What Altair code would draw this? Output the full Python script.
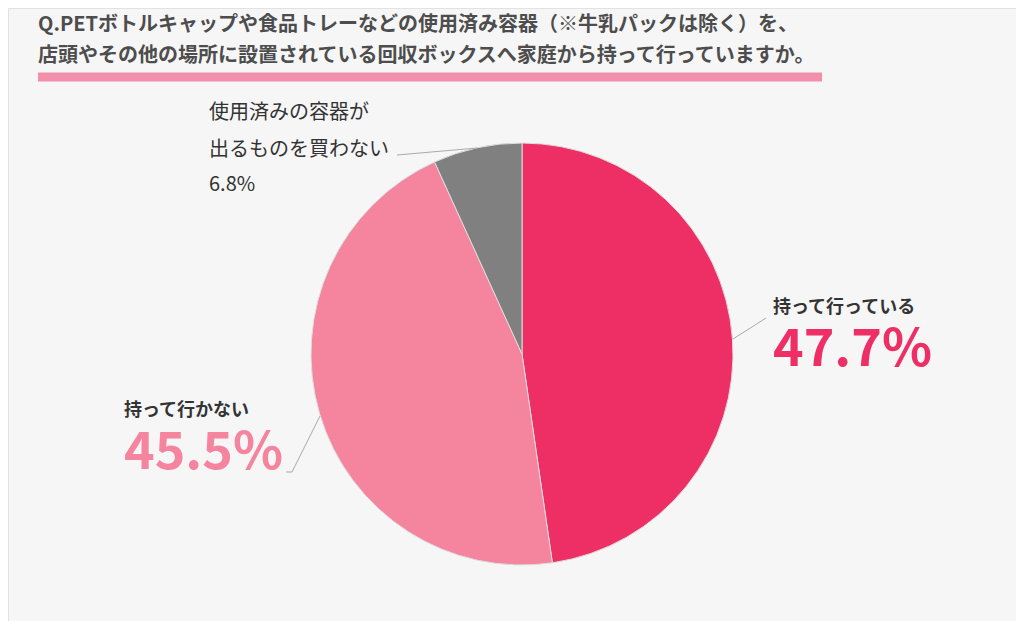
"""
Pie chart: bringing used containers to collection boxes (survey result)
"""

import altair as alt
import pandas as pd

# data
answers = ["持って行っている", "持って行かない", "使用済みの容器が出るものを買わない"]
shares = [47.7, 45.5, 6.8]
slice_colors = ["#ee2f66", "#f5849f", "#808080"]

title_lines = [
    "Q.PETボトルキャップや食品トレーなどの使用済み容器（※牛乳パックは除く）を、",
    "店頭やその他の場所に設置されている回収ボックスへ家庭から持って行っていますか。",
]

W = 1008
H = 613
FONT = "Noto Sans CJK JP"
TEXT_DARK = "#333333"

# chart coords = image coords - 8 (page margin)
CX, CY, R = 514, 346, 211

pie_df = pd.DataFrame({"answer": answers, "share": shares, "order": [0, 1, 2]})

pie = alt.Chart(pie_df).mark_arc(
    outerRadius=R, stroke="#dddddd", strokeWidth=1
).encode(
    theta=alt.Theta("share:Q", stack=True),
    order=alt.Order("order:O"),
    color=alt.Color("answer:N", scale=alt.Scale(domain=answers, range=slice_colors), legend=None),
    x=alt.value(CX),
    y=alt.value(CY),
)


def text_layer(text, x, y, size, color, weight="normal"):
    return alt.Chart(pd.DataFrame({"t": [text]})).mark_text(
        align="left", baseline="middle", font=FONT, fontSize=size,
        fontWeight=weight, color=color
    ).encode(text="t:N", x=alt.value(x), y=alt.value(y))


def rule_layer(x, y, x2, y2, color="#aaaaaa", size=1):
    return alt.Chart(pd.DataFrame({"a": [0]})).mark_rule(
        color=color, strokeWidth=size
    ).encode(x=alt.value(x), y=alt.value(y), x2=alt.value(x2), y2=alt.value(y2))


# title + pink underline
title1 = text_layer(title_lines[0], 30, 17, 20, "#4d4d4d", "bold")
title2 = text_layer(title_lines[1], 30, 48, 20, "#4d4d4d", "bold")
underline = rule_layer(30, 69, 814, 69, color="#f28fab", size=9)

# labels
lab_go = text_layer(answers[0], 765, 300, 18, TEXT_DARK, "bold")
pct_go = text_layer(f"{shares[0]}%", 765, 342, 52, slice_colors[0], "bold")
lab_no = text_layer(answers[1], 116, 403, 18, TEXT_DARK, "bold")
pct_no = text_layer(f"{shares[1]}%", 116, 445, 52, slice_colors[1], "bold")
lab_gray1 = text_layer("使用済みの容器が", 201, 105, 20, TEXT_DARK)
lab_gray2 = text_layer("出るものを買わない", 201, 142, 20, TEXT_DARK)
lab_gray3 = text_layer(f"{shares[2]}%", 201, 177, 20, TEXT_DARK)

# leader lines
lead_go = rule_layer(725, 331, 758, 310)
lead_no1 = rule_layer(312, 408, 284, 464)
lead_no2 = rule_layer(284, 464, 278, 464)
lead_gray = rule_layer(389, 147, 469, 140)

chart = alt.layer(
    pie, title1, title2, underline,
    lab_go, pct_go, lab_no, pct_no, lab_gray1, lab_gray2, lab_gray3,
    lead_go, lead_no1, lead_no2, lead_gray,
).properties(
    width=W, height=H, autosize=alt.AutoSizeParams(type="none"), padding=0,
    background="#f6f6f6",
).configure_view(stroke="#e2e2e2")

chart.save("out.html", embed_options={"renderer": "svg", "actions": False})
